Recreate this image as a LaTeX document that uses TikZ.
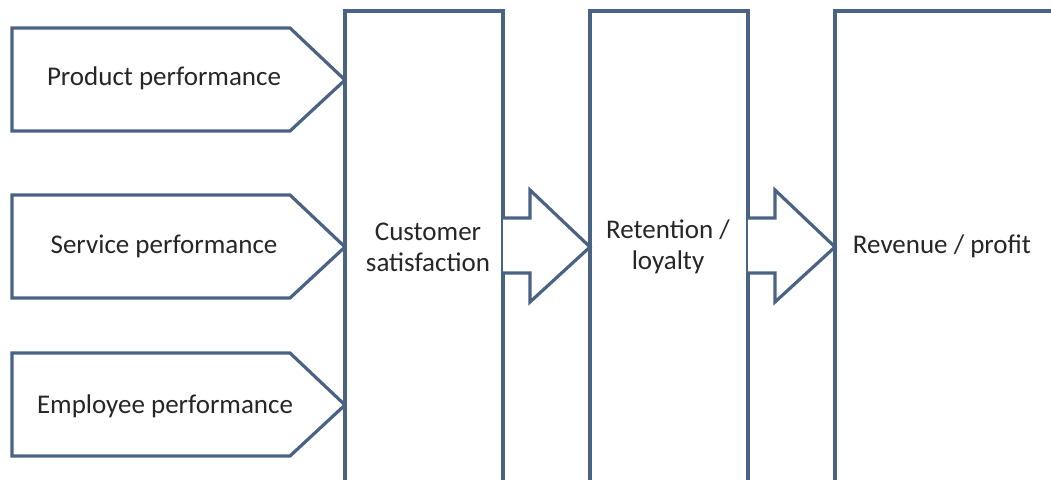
\documentclass[tikz,border=0pt]{standalone}
\usepackage{fontspec}
\setmainfont{Carlito}
\begin{document}
\begin{tikzpicture}[x=1pt,y=-1pt,
  shapeline/.style={draw=frameblue,line width=3.2pt,fill=white,line join=miter},
  label/.style={font=\fontsize{27}{31}\selectfont,text=black!85,align=center,inner sep=0pt}]
\definecolor{frameblue}{HTML}{4A6385}
\useasboundingbox (0,0) rectangle (1051,479);
\fill[white] (0,0) rectangle (1051,479);
% input chevrons
\foreach \t in {28,195,353}{
  \draw[shapeline] (12,\t) -- (290,\t) -- (345,\t+52) -- (290,\t+103) -- (12,\t+103) -- cycle;
}
% tall stage boxes, running off the lower edge
\draw[shapeline] (345,490) -- (345,11) -- (503,11) -- (503,490);
\draw[shapeline] (590,490) -- (590,11) -- (748,11) -- (748,490);
\draw[shapeline] (835,490) -- (835,11) -- (1060,11);
% block arrows between stages
\draw[shapeline] (503,218) -- (530,218) -- (530,190) -- (590,247) -- (530,302) -- (530,273) -- (503,273);
\draw[shapeline] (748,218) -- (775,218) -- (775,190) -- (835,247) -- (775,302) -- (775,273) -- (748,273);
% texts
\node[label] (prod) at (164,78) {Product performance};
\node[label] (serv) at (164,246) {Service performance};
\node[label] (empl) at (165,406) {Employee performance};
\node[label] (cust) at (428,247) {Customer\\satisfaction};
\node[label] (ret) at (668,247) {Retention /\\loyalty};
\node[label] (rev) at (942,246) {Revenue / profit};
\end{tikzpicture}
\end{document}
